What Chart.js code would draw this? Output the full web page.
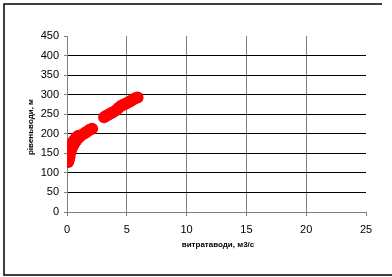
<!DOCTYPE html>
<html>
<head>
<meta charset="utf-8">
<script src="https://cdn.jsdelivr.net/npm/chart.js@4"></script>
<style>
  html, body { margin: 0; padding: 0; background: #fff; }
  #wrap { width: 392px; height: 277px; }
</style>
</head>
<body>
<div id="wrap"><canvas id="scatterChart" width="392" height="277"></canvas></div>
<script>
// flow of water (m3/s) and water level (m)
let flowLow = [0.1, 0.15, 0.2, 0.25, 0.3, 0.35, 0.4, 0.5, 0.6, 0.7, 0.8, 0.9, 1.0, 1.1, 1.3, 1.5, 1.7, 1.9, 2.1, 0.1, 0.2, 0.35, 0.55, 0.75, 0.95];
let levelLow = [128, 133, 140, 148, 155, 160, 165, 170, 175, 180, 184, 188, 191, 194, 198, 202, 206, 210, 213, 145, 160, 172, 182, 190, 195];
let flowHigh = [3.1, 3.3, 3.5, 3.7, 3.9, 4.1, 4.3, 4.5, 4.7, 4.9, 5.1, 5.3, 5.5, 5.7, 5.9];
let levelHigh = [242, 246, 249, 253, 256, 260, 266, 271, 274, 277, 280, 283, 287, 291, 293];
let xTicks = [0, 5, 10, 15, 20, 25];
let yTicks = [0, 50, 100, 150, 200, 250, 300, 350, 400, 450];

let xTitle = 'витратаводи, м3/с';
let yTitle = 'рівеньводи, м';

let points = [];
flowLow.forEach((x, i) => points.push({ x: x, y: levelLow[i] }));
flowHigh.forEach((x, i) => points.push({ x: x, y: levelHigh[i] }));

const frameAndTitles = {
  id: 'frameAndTitles',
  afterDraw(chart) {
    const c = chart.ctx;
    c.save();
    c.strokeStyle = '#000';
    c.lineWidth = 1.5;
    c.beginPath();
    c.moveTo(382, 4); c.lineTo(4, 4); c.lineTo(4, 275); c.lineTo(392, 275);
    c.stroke();

    c.fillStyle = '#000';
    c.font = 'bold 8px "Liberation Sans", Arial, sans-serif';
    c.textAlign = 'center';
    c.textBaseline = 'middle';
    c.fillText(xTitle, 218, 245);
    c.translate(31, 127);
    c.rotate(-Math.PI / 2);
    c.fillText(yTitle, 0, 0);
    c.restore();
  }
};

let ctx = document.getElementById('scatterChart').getContext('2d');
let scatterChart = new Chart(ctx, {
  type: 'scatter',
  data: {
    datasets: [{
      data: points,
      backgroundColor: '#ff0000',
      borderWidth: 0,
      pointRadius: 6,
      pointHoverRadius: 6
    }]
  },
  options: {
    responsive: false,
    animation: false,
    devicePixelRatio: 1,
    layout: { padding: { top: 36, right: 26, left: 0, bottom: 0 } },
    plugins: { legend: { display: false }, tooltip: { enabled: false } },
    scales: {
      x: {
        type: 'linear',
        min: 0,
        max: 25,
        afterBuildTicks: s => { s.ticks = xTicks.map(v => ({ value: v })); },
        afterFit: s => { s.height = 65; },
        ticks: { color: '#000', padding: 7, maxRotation: 0, font: { family: '"Liberation Sans", Arial', size: 11 } },
        grid: {
          color: c => (c.tick && c.tick.value > 0 && c.tick.value < 25) ? '#808080' : 'rgba(0,0,0,0)',
          tickColor: '#808080',
          tickLength: 4
        },
        border: { color: '#808080', width: 1 }
      },
      y: {
        min: 0,
        max: 450,
        afterBuildTicks: s => { s.ticks = yTicks.map(v => ({ value: v })); },
        afterFit: s => { s.width = 67; },
        ticks: { color: '#000', padding: 5, font: { family: '"Liberation Sans", Arial', size: 11 } },
        grid: {
          color: c => (c.tick && c.tick.value > 0 && c.tick.value < 450) ? '#000' : 'rgba(0,0,0,0)',
          tickColor: '#808080',
          tickLength: 3
        },
        border: { color: '#808080', width: 1 }
      }
    }
  },
  plugins: [frameAndTitles]
});
</script>
</body>
</html>
